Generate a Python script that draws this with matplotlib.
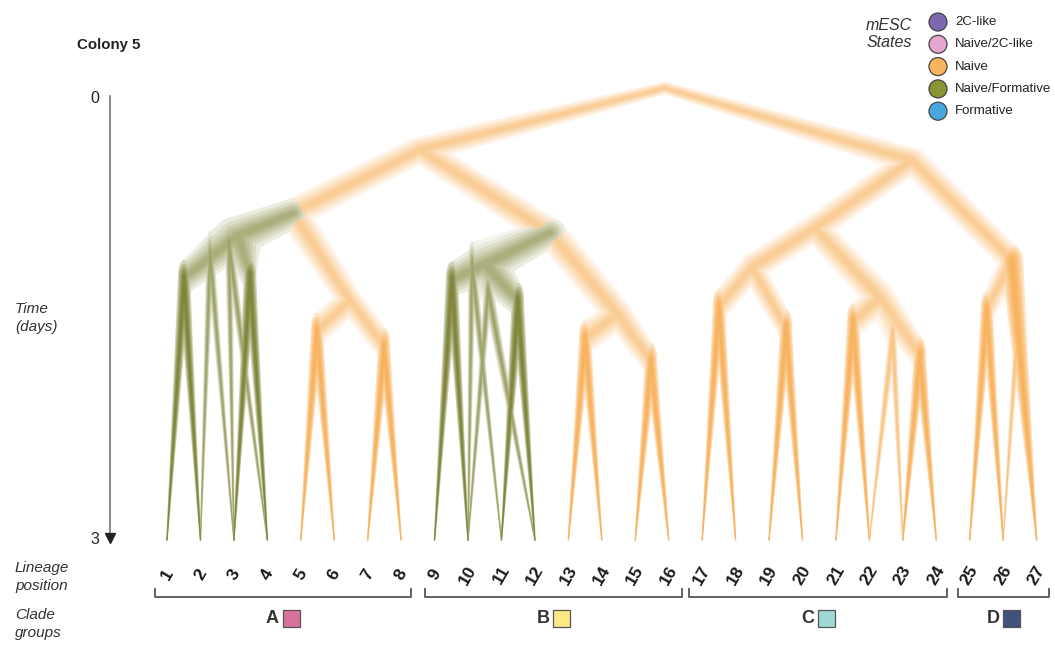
import numpy as np
import matplotlib.pyplot as plt
from matplotlib.patches import Polygon, Rectangle, Circle
from matplotlib.colors import to_rgb

plt.rcParams['font.family'] = ['Liberation Sans', 'DejaVu Sans']

# ── Datos: arbol de linaje (posicion de linaje, tiempo en dias) ───────────────
leaf_ids  = list(range(1, 28))
leaf_time = 3.0

node_names = ["root", "L", "R", "A", "B", "G1", "O1", "n12", "n34", "n56", "n78",
              "G2", "O2", "n910", "n1112", "n1314", "n1516",
              "C", "D", "C1", "C2", "n1718", "n1920", "n2122", "n2324", "n2526"]
node_pos  = [15.89, 8.56, 23.27, 4.77, 12.45, 3.12, 6.47, 1.51, 3.48, 5.48, 7.49,
             10.51, 14.48, 9.52, 11.49, 13.50, 15.47,
             20.37, 26.26, 18.49, 22.32, 17.50, 19.51, 21.51, 23.51, 25.51]
node_time = [0.00, 0.41, 0.48, 0.83, 0.96, 0.98, 1.41, 1.26, 1.24, 1.61, 1.71,
             1.17, 1.50, 1.27, 1.41, 1.66, 1.81,
             0.93, 1.14, 1.19, 1.39, 1.45, 1.59, 1.55, 1.77, 1.47]

# aristas principales: (padre, hijo, estado)
edges = [("root", "L", "Naive"), ("root", "R", "Naive"),
         ("L", "A", "Naive"), ("L", "B", "Naive"),
         ("A", "G1", "Naive/Formative"), ("A", "O1", "Naive"),
         ("G1", "n12", "Naive/Formative"), ("G1", "n34", "Naive/Formative"),
         ("n12", 1, "Naive/Formative"), ("n12", 2, "Naive/Formative"),
         ("n34", 3, "Naive/Formative"), ("n34", 4, "Naive/Formative"),
         ("O1", "n56", "Naive"), ("O1", "n78", "Naive"),
         ("n56", 5, "Naive"), ("n56", 6, "Naive"), ("n78", 7, "Naive"), ("n78", 8, "Naive"),
         ("B", "G2", "Naive/Formative"), ("B", "O2", "Naive"),
         ("G2", "n910", "Naive/Formative"), ("G2", "n1112", "Naive/Formative"),
         ("n910", 9, "Naive/Formative"), ("n910", 10, "Naive/Formative"),
         ("n1112", 11, "Naive/Formative"), ("n1112", 12, "Naive/Formative"),
         ("O2", "n1314", "Naive"), ("O2", "n1516", "Naive"),
         ("n1314", 13, "Naive"), ("n1314", 14, "Naive"),
         ("n1516", 15, "Naive"), ("n1516", 16, "Naive"),
         ("R", "C", "Naive"), ("R", "D", "Naive"),
         ("C", "C1", "Naive"), ("C", "C2", "Naive"),
         ("C1", "n1718", "Naive"), ("C1", "n1920", "Naive"),
         ("n1718", 17, "Naive"), ("n1718", 18, "Naive"),
         ("n1920", 19, "Naive"), ("n1920", 20, "Naive"),
         ("C2", "n2122", "Naive"), ("C2", "n2324", "Naive"),
         ("n2122", 21, "Naive"), ("n2122", 22, "Naive"),
         ("n2324", 23, "Naive"), ("n2324", 24, "Naive"),
         ("D", "n2526", "Naive"), ("D", 27, "Naive"),
         ("n2526", 25, "Naive"), ("n2526", 26, "Naive")]

# topologias alternativas (menor soporte)
alt_names = ["a23", "a34", "a1011", "a1112", "a2223", "a2627"]
alt_pos   = [2.29, 2.85, 10.12, 10.60, 22.70, 26.50]
alt_time  = [1.10, 1.03, 1.17, 1.34, 1.63, 1.36]
alt_edges = [("G1", "a23", "Naive/Formative"), ("a23", 2, "Naive/Formative"), ("a23", 3, "Naive/Formative"),
             ("A", "a34", "Naive/Formative"), ("a34", 3, "Naive/Formative"), ("a34", 4, "Naive/Formative"),
             ("B", "a1011", "Naive/Formative"), ("a1011", 10, "Naive/Formative"), ("a1011", 11, "Naive/Formative"),
             ("G2", "a1112", "Naive/Formative"), ("a1112", 10, "Naive/Formative"), ("a1112", 12, "Naive/Formative"),
             ("C2", "a2223", "Naive"), ("a2223", 22, "Naive"), ("a2223", 23, "Naive"),
             ("D", "a2627", "Naive"), ("a2627", 26, "Naive"), ("a2627", 27, "Naive")]

states       = ["2C-like", "Naive/2C-like", "Naive", "Naive/Formative", "Formative"]
state_colors = ["#7B68AE", "#E6A6CF", "#F9B35F", "#8C9535", "#4AA7DE"]
line_colors  = {"Naive": "#F7AB4E", "Naive/Formative": "#737925"}

clade_labels = ["A", "B", "C", "D"]
clade_spans  = [(0.64, 8.29), (8.71, 16.40), (16.60, 24.32), (24.65, 27.37)]
clade_colors = ["#DA729E", "#FBEA83", "#9FD9D5", "#41517E"]

# ── Estilo: nube de incertidumbre (rx, ry en px) en cada nodo ─────────────────
spread = {"root": (4, 4), "L": (9, 8), "R": (9, 8), "A": (10, 9), "B": (10, 9),
          "G1": (15, 12), "G2": (15, 12), "O1": (7, 9), "O2": (9, 9),
          "C": (9, 8), "D": (7, 9), "C1": (7, 9), "C2": (9, 10)}
PEAK_R, LEAF_R, ALT_R = (3.8, 11), (0.5, 0.5), (2.5, 14)
LAYERS = [1.6, 1.25, 0.95, 0.7, 0.48, 0.28]
ANG = np.linspace(0, 2 * np.pi, 28, endpoint=False)

coords = {n: (p, t) for n, p, t in zip(node_names, node_pos, node_time)}
coords.update({n: (p, t) for n, p, t in zip(alt_names, alt_pos, alt_time)})
coords.update({i: (i, leaf_time) for i in leaf_ids})

def radii(n):
    if isinstance(n, int):
        return LEAF_R
    if n in alt_names:
        return ALT_R
    return spread.get(n, PEAK_R)

def convex_hull(pts):
    pts = sorted(map(tuple, pts))
    def cross(o, a, b):
        return (a[0] - o[0]) * (b[1] - o[1]) - (a[1] - o[1]) * (b[0] - o[0])
    lower, upper = [], []
    for p in pts:
        while len(lower) >= 2 and cross(lower[-2], lower[-1], p) <= 0:
            lower.pop()
        lower.append(p)
    for p in reversed(pts):
        while len(upper) >= 2 and cross(upper[-2], upper[-1], p) <= 0:
            upper.pop()
        upper.append(p)
    return np.array(lower[:-1] + upper[:-1])

# ── Figura: ejes que cubren toda la imagen ────────────────────────────────────
fig = plt.figure(figsize=(10.55, 6.45), dpi=100)
ax = fig.add_axes([0, 0, 1, 1])
ax.set_xlim(-3.993, 27.55)
ax.set_ylim(3.697, -0.584)
ax.axis("off")

# capa en pixeles para la leyenda (circulos redondos)
deco = fig.add_axes([0, 0, 1, 1])
deco.set_xlim(0, 1055)
deco.set_ylim(645, 0)
deco.axis("off")

def bundle(p0, p1, r0, r1, s):
    P0 = ax.transData.transform(p0)
    P1 = ax.transData.transform(p1)
    e0 = np.c_[P0[0] + r0[0] * s * np.cos(ANG), P0[1] + r0[1] * s * np.sin(ANG)]
    e1 = np.c_[P1[0] + max(r1[0] * s, 0.3) * np.cos(ANG), P1[1] + max(r1[1] * s, 0.3) * np.sin(ANG)]
    return ax.transData.inverted().transform(convex_hull(np.vstack([e0, e1])))

# cada capa se pinta opaca con el tono ya mezclado con blanco:
# asi los solapes en los nodos no se oscurecen; lo mas oscuro queda encima
def draw_edges(edge_list, weight):
    for par, chi, st in edge_list:
        col = np.array(to_rgb(line_colors[st]))
        a = weight * (0.32 if isinstance(chi, int) else 0.14)
        for k, s in enumerate(LAYERS):
            op = 1 - (1 - a) ** (k + 1)
            tint = 1 - op * (1 - col)
            z = 2 + (1 - tint.mean())
            poly = bundle(coords[par], coords[chi], radii(par), radii(chi), s)
            ax.add_patch(Polygon(poly, closed=True, facecolor=tint, edgecolor="none", zorder=z))

draw_edges(alt_edges, 0.55)
draw_edges(edges, 1.0)

# eje de tiempo
ax.plot([-0.704, -0.704], [0.05, 2.96], color="#777777", lw=1.2, zorder=1)
ax.plot([-0.704], [2.99], marker="v", color="#222222", markersize=7, zorder=1)
ax.text(-1.16, 0.07, "0", ha="center", va="center", fontsize=11.5, color="#222222")
ax.text(-1.16, 3.0, "3", ha="center", va="center", fontsize=11.5, color="#222222")

# posiciones de linaje
for i in leaf_ids:
    ax.text(i, 3.232, str(i), rotation=60, rotation_mode="anchor", ha="center", va="center",
            fontsize=12.5, fontweight="bold", color="#1a1a1a")

# corchetes de clados
for lab, (x0, x1), col in zip(clade_labels, clade_spans, clade_colors):
    ax.plot([x0, x0, x1, x1], [3.325, 3.378, 3.378, 3.325], color="#555555", lw=1.3)
    xm = (x0 + x1) / 2
    ax.text(xm - 0.12, 3.52, lab, ha="right", va="center", fontsize=13,
            fontweight="bold", color="#333333")
    ax.add_patch(Rectangle((xm, 3.465), 0.5, 0.11, facecolor=col,
                           edgecolor="#555555", lw=0.9))

# textos de la izquierda
fig.text(77 / 1055, 1 - 45 / 645, "Colony 5", fontsize=10.8, fontweight="bold",
         color="#222222", va="center")
fig.text(15 / 1055, 1 - 318 / 645, "Time\n(days)", fontsize=11, style="italic",
         color="#333333", va="center", linespacing=1.3)
fig.text(15 / 1055, 1 - 577 / 645, "Lineage\nposition", fontsize=11, style="italic",
         color="#333333", va="center", linespacing=1.3)
fig.text(15 / 1055, 1 - 624 / 645, "Clade\ngroups", fontsize=11, style="italic",
         color="#333333", va="center", linespacing=1.3)

# leyenda de estados
deco.text(912, 34, "mESC\nStates", fontsize=11.5, style="italic",
          color="#333333", ha="right", va="center", linespacing=1.15)
for k, (st, col) in enumerate(zip(states, state_colors)):
    yk = 22 + k * 22.3
    deco.add_patch(Circle((938, yk), 9, facecolor=col, edgecolor="#444444", lw=0.9))
    deco.text(955, yk, st, fontsize=9.5, color="#222222", va="center")

fig.savefig("out.png", dpi=100)
